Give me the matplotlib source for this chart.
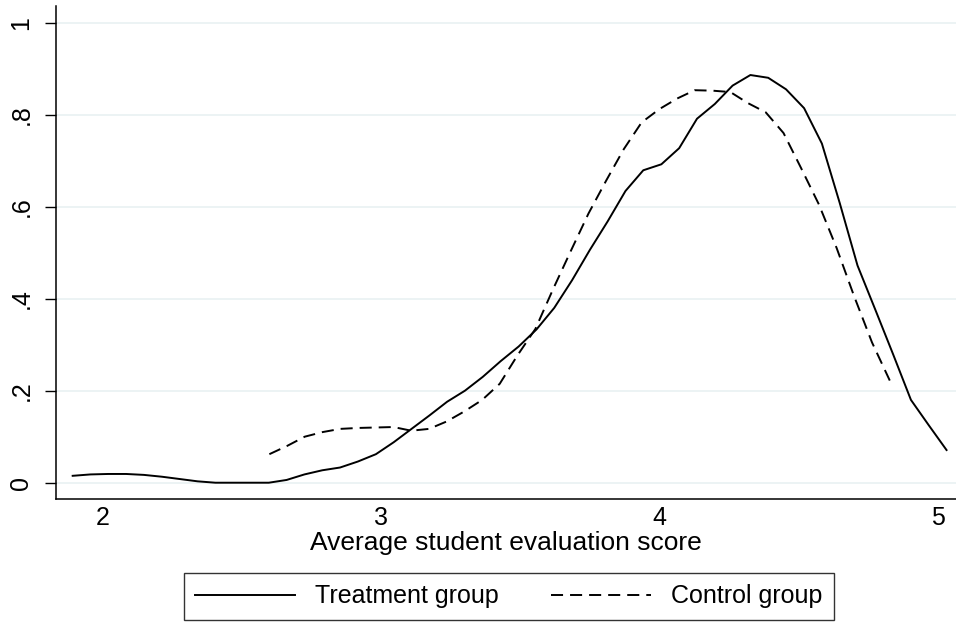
import matplotlib
matplotlib.use("Agg")
import matplotlib.pyplot as plt

plt.rcParams['font.family'] = ['Liberation Sans', 'DejaVu Sans']

# Treatment group density
treat_x = [1.891, 1.955, 2.019, 2.083, 2.147, 2.212, 2.276, 2.340, 2.404, 2.468,
           2.532, 2.596, 2.660, 2.724, 2.788, 2.852, 2.916, 2.981, 3.045, 3.109,
           3.173, 3.237, 3.301, 3.365, 3.429, 3.494, 3.558, 3.622, 3.686, 3.750,
           3.814, 3.878, 3.942, 4.007, 4.071, 4.135, 4.199, 4.263, 4.327, 4.391,
           4.455, 4.520, 4.584, 4.648, 4.712, 4.776, 4.840, 4.904, 4.968, 5.032]
treat_y = [0.015, 0.018, 0.019, 0.019, 0.017, 0.013, 0.008, 0.003, 0.000, 0.000,
           0.000, 0.000, 0.006, 0.018, 0.027, 0.033, 0.046, 0.062, 0.088, 0.117,
           0.146, 0.176, 0.200, 0.230, 0.264, 0.296, 0.333, 0.380, 0.440, 0.506,
           0.568, 0.634, 0.679, 0.692, 0.727, 0.791, 0.823, 0.863, 0.886, 0.880,
           0.855, 0.814, 0.737, 0.608, 0.472, 0.376, 0.279, 0.180, 0.125, 0.071]

# Control group density
ctrl_x = [2.598, 2.662, 2.725, 2.789, 2.853, 2.917, 2.980, 3.044, 3.108, 3.172,
          3.235, 3.299, 3.363, 3.426, 3.490, 3.554, 3.618, 3.681, 3.745, 3.809,
          3.872, 3.936, 4.000, 4.064, 4.127, 4.191, 4.255, 4.318, 4.382, 4.446,
          4.509, 4.573, 4.637, 4.700, 4.764, 4.828]
ctrl_y = [0.062, 0.080, 0.100, 0.110, 0.117, 0.119, 0.120, 0.121, 0.113, 0.117,
          0.133, 0.155, 0.180, 0.215, 0.277, 0.334, 0.421, 0.503, 0.585, 0.657,
          0.725, 0.783, 0.812, 0.835, 0.853, 0.852, 0.849, 0.825, 0.805, 0.760,
          0.684, 0.605, 0.510, 0.405, 0.305, 0.222]

x_ticks = [2, 3, 4, 5]
x_tick_labels = ["2", "3", "4", "5"]
y_ticks = [0, 0.2, 0.4, 0.6, 0.8, 1.0]
y_tick_labels = ["0", ".2", ".4", ".6", ".8", "1"]
x_label = "Average student evaluation score"
series_labels = ["Treatment group", "Control group"]

W, H = 956, 622
FS = 18
fig = plt.figure(figsize=(W / 100, H / 100), dpi=100)
ax = fig.add_axes([55.7 / W, 1 - 499 / H, 1 - 55.7 / W, (499 - 6) / H])

for yv in y_ticks:
    ax.axhline(yv, color='#EAF2F3', lw=1.3, zorder=0)

dash = (0, (6.2, 3.6))
l1, = ax.plot(treat_x, treat_y, color='black', lw=1.4, label=series_labels[0])
l2, = ax.plot(ctrl_x, ctrl_y, color='black', lw=1.4, linestyle=dash,
              label=series_labels[1])

ax.set_xlim(1.830, 5.066)
ax.set_ylim(-0.0354, 1.036)

ax.set_xticks(x_ticks)
ax.set_xticklabels(x_tick_labels)
ax.set_yticks(y_ticks)
ax.set_yticklabels(y_tick_labels, rotation=90, va='center')

ax.tick_params(axis='x', length=0, pad=5, labelsize=FS)
ax.tick_params(axis='y', length=8, width=1.0, pad=8, labelsize=FS)

for s in ['top', 'right']:
    ax.spines[s].set_visible(False)
for s in ['left', 'bottom']:
    ax.spines[s].set_linewidth(1.1)

ax.set_xlabel(x_label, fontsize=19, labelpad=1)

leg = fig.legend(handles=[l1, l2], loc='center',
                 bbox_to_anchor=(509 / W, 1 - 596.5 / H), ncol=2,
                 fontsize=FS, frameon=True, fancybox=False,
                 edgecolor='black', handlelength=4.0, handletextpad=0.8,
                 columnspacing=2.1, borderpad=0.45, borderaxespad=0)
leg.get_frame().set_linewidth(1.0)

fig.savefig("out.png", dpi=100)
